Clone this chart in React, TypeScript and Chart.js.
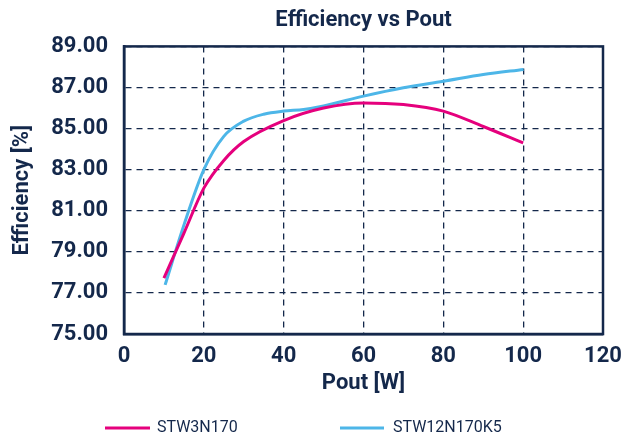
import React, { useEffect, useRef } from "react";
import { Chart, registerables } from "chart.js";

Chart.register(...registerables);

const chartTitle = "Efficiency vs Pout";
const xTitle = "Pout [W]";
const yTitle = "Efficiency [%]";

const seriesNames = ["STW3N170", "STW12N170K5"];
const seriesColors = ["#e5007d", "#4db6e8"];

const pinkPout = [10, 15, 20, 25, 30, 40, 50, 60, 70, 80, 90, 100];
const pinkEff = [77.72, 79.9, 82.1, 83.45, 84.37, 85.39, 86.0, 86.25, 86.17, 85.85, 85.1, 84.3];

const bluePout = [10.3, 15, 20, 25, 30, 35, 40, 45, 50, 60, 70, 80, 90, 100.1];
const blueEff = [77.39, 80.3, 83.0, 84.62, 85.36, 85.7, 85.85, 85.93, 86.1, 86.58, 86.99, 87.3, 87.63, 87.88];

const xMin = 0;
const xMax = 120;
const xStep = 20;
const yMin = 75;
const yMax = 89;
const yStep = 2;

const TEXT = "#14284b";
const FONT = "'Roboto', 'Liberation Sans', sans-serif";

const framePlugin = {
  id: "frame",
  afterDatasetsDraw(chart: any) {
    const { ctx, chartArea } = chart;
    ctx.save();
    ctx.strokeStyle = TEXT;
    ctx.lineWidth = 2.5;
    ctx.setLineDash([]);
    ctx.strokeRect(chartArea.left, chartArea.top, chartArea.right - chartArea.left, chartArea.bottom - chartArea.top);
    ctx.restore();
  },
};

const legendLayout = [
  { lineStart: 105, lineEnd: 150, textX: 157 },
  { lineStart: 340, lineEnd: 384, textX: 393 },
];
const legendY = 428;

const customLegend = {
  id: "customLegend",
  afterDraw(chart: any) {
    const { ctx } = chart;
    ctx.save();
    chart.data.datasets.forEach((ds: any, i: number) => {
      const l = legendLayout[i];
      ctx.strokeStyle = ds.borderColor;
      ctx.lineWidth = 3;
      ctx.setLineDash([]);
      ctx.beginPath();
      ctx.moveTo(l.lineStart, legendY);
      ctx.lineTo(l.lineEnd, legendY);
      ctx.stroke();
      ctx.fillStyle = TEXT;
      ctx.font = `16px ${FONT}`;
      ctx.textAlign = "left";
      ctx.textBaseline = "middle";
      ctx.fillText(ds.label, l.textX, legendY);
    });
    ctx.restore();
  },
};

export default function App() {
  const ref = useRef<HTMLCanvasElement | null>(null);
  useEffect(() => {
    if (!ref.current) return;
    const chart = new Chart(ref.current, {
      type: "line",
      data: {
        datasets: [
          {
            label: seriesNames[0],
            data: pinkPout.map((x, i) => ({ x, y: pinkEff[i] })),
            borderColor: seriesColors[0],
            backgroundColor: seriesColors[0],
            borderWidth: 3,
            pointRadius: 0,
            cubicInterpolationMode: "monotone",
          },
          {
            label: seriesNames[1],
            data: bluePout.map((x, i) => ({ x, y: blueEff[i] })),
            borderColor: seriesColors[1],
            backgroundColor: seriesColors[1],
            borderWidth: 3,
            pointRadius: 0,
            cubicInterpolationMode: "monotone",
          },
        ],
      },
      options: {
        animation: false,
        responsive: true,
        maintainAspectRatio: false,
        layout: { padding: { left: 0, right: 0, top: 0, bottom: 36 } },
        plugins: {
          legend: { display: false },
          tooltip: { enabled: false },
          title: {
            display: true,
            text: chartTitle,
            fullSize: false,
            color: TEXT,
            font: { family: FONT, size: 22, weight: "bold" },
            padding: { top: 7, bottom: 13 },
          },
        },
        scales: {
          x: {
            type: "linear",
            min: xMin,
            max: xMax,
            ticks: {
              stepSize: xStep,
              color: TEXT,
              padding: 9,
              font: { family: FONT, size: 22, weight: "bold" },
            },
            grid: {
              color: TEXT,
              lineWidth: 1.3,
              drawTicks: false,
            },
            border: { display: true, color: TEXT, width: 2.5, dash: [6, 5] },
            title: {
              display: true,
              text: xTitle,
              color: TEXT,
              font: { family: FONT, size: 22, weight: "bold" },
              padding: { top: 0, bottom: 3 },
            },
            afterFit(scale: any) {
              scale.height = 66;
              scale.paddingRight = 20;
              scale.paddingLeft = 0;
            },
          },
          y: {
            type: "linear",
            min: yMin,
            max: yMax,
            ticks: {
              stepSize: yStep,
              color: TEXT,
              padding: 16,
              font: { family: FONT, size: 22, weight: "bold" },
              callback: (v: any) => Number(v).toFixed(2),
            },
            grid: {
              color: TEXT,
              lineWidth: 1.3,
              drawTicks: false,
            },
            border: { display: true, color: TEXT, width: 2.5, dash: [6, 5] },
            title: {
              display: true,
              text: yTitle,
              color: TEXT,
              font: { family: FONT, size: 22, weight: "bold" },
              padding: { top: 9, bottom: 0 },
            },
            afterFit(scale: any) {
              scale.width = 124;
            },
          },
        },
      },
      plugins: [framePlugin, customLegend],
    });
    return () => chart.destroy();
  }, []);
  return (
    <div style={{ position: "fixed", left: 0, top: 0, width: 623, height: 436, background: "#fff" }}>
      <canvas ref={ref} />
    </div>
  );
}
